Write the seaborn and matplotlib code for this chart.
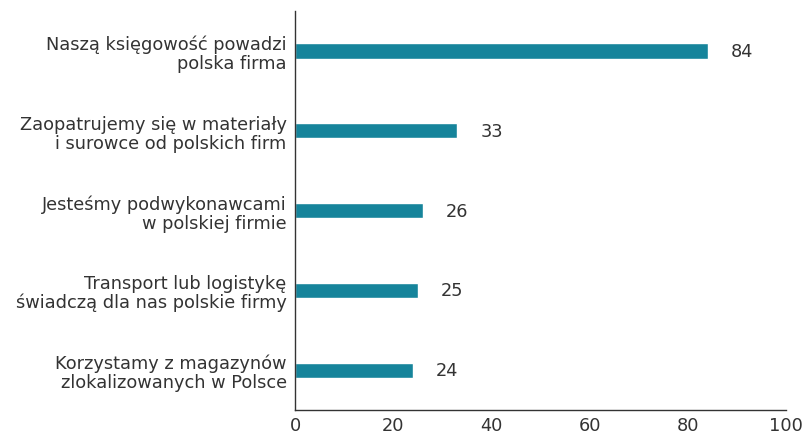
import matplotlib
matplotlib.use("Agg")
import matplotlib.pyplot as plt
import seaborn as sns
import pandas as pd

categories = [
    "Naszą księgowość powadzi\npolska firma",
    "Zaopatrujemy się w materiały\ni surowce od polskich firm",
    "Jesteśmy podwykonawcami\nw polskiej firmie",
    "Transport lub logistykę\nświadczą dla nas polskie firmy",
    "Korzystamy z magazynów\nzlokalizowanych w Polsce",
]
values = [84, 33, 26, 25, 24]
xticks = [0, 20, 40, 60, 80, 100]

sns.set_theme(style="white")
plt.rcParams["font.family"] = ["DejaVu Sans"]

df = pd.DataFrame({"cat": categories, "val": values})

fig = plt.figure(figsize=(8.04, 4.35), dpi=100)
ax = fig.add_axes([0.367, 0.055, 0.611, 0.917])
sns.barplot(data=df, x="val", y="cat", color="#16849b", saturation=1, width=0.19, ax=ax)

ax.set_xlim(0, 100)
ax.set_xticks(xticks)
ax.set_xlabel("")
ax.set_ylabel("")
for s in ["top", "right"]:
    ax.spines[s].set_visible(False)
for s in ["left", "bottom"]:
    ax.spines[s].set_color("#333333")
    ax.spines[s].set_linewidth(1.0)
fs = 12.8
ax.tick_params(axis="both", length=0, labelsize=fs, colors="#333333")
ax.tick_params(axis="y", pad=6)
ax.tick_params(axis="x", pad=4)
for lbl in ax.get_yticklabels():
    lbl.set_horizontalalignment("right")
    lbl.set_multialignment("right")
    lbl.set_linespacing(1.05)

for i, v in enumerate(values):
    ax.text(v + 4.7, i, str(v), va="center", ha="left", fontsize=fs, color="#333333")

fig.savefig("out.png", dpi=100)
